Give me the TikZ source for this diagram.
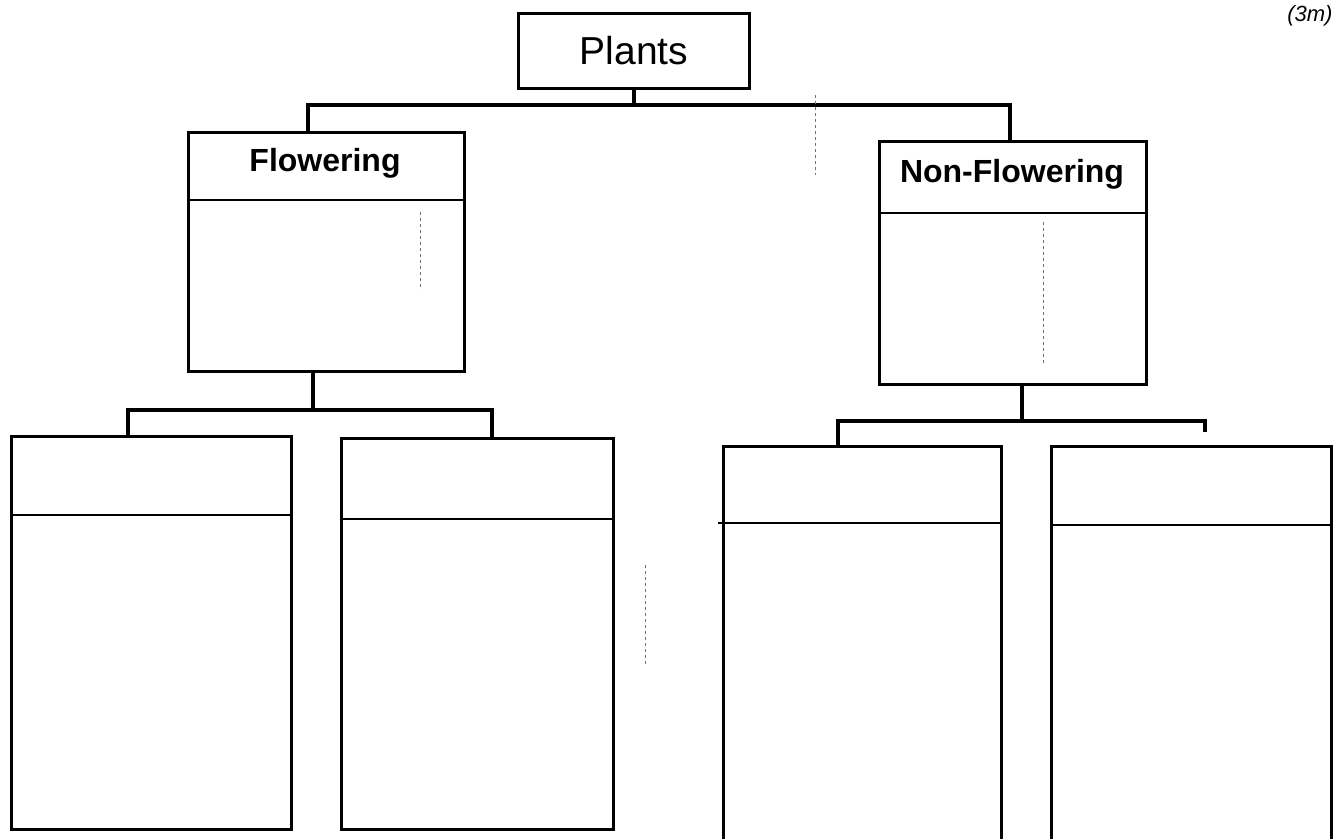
\documentclass[tikz,border=0pt]{standalone}
\usepackage{fontspec}
\setmainfont{Liberation Sans}
\usetikzlibrary{calc}
\begin{document}
\begin{tikzpicture}[x=1pt,y=-1pt,
  box/.style={draw=black, rectangle, inner sep=0pt, line width=2.8pt, anchor=north west},
  link/.style={draw=black, line width=3.2pt},
  divline/.style={draw=black, line width=2.2pt},
  artifact/.style={draw=black!55, line width=0.7pt, dash pattern=on 3pt off 3pt},
  ttl/.style={font=\bfseries\fontsize{32}{36}\selectfont, text=black}]
\useasboundingbox[fill=white] (0,0) rectangle (1335,838);

% top box
\node[box, minimum width=231pt, minimum height=75pt, font=\fontsize{39}{44}\selectfont] (plants) at (517,12) {Plants};
\node[font=\itshape\fontsize{22}{26}\selectfont, anchor=north east] (marks) at (1336,2) {(3m)};

% second level
\node[box, minimum width=276pt, minimum height=239pt] (flow) at (187,131) {};
\node[box, minimum width=267pt, minimum height=243pt] (nflow) at (878,140) {};
\node[ttl] (flowT) at (325,163) {Flowering};
\node[ttl] (nflowT) at (1012,174) {Non-Flowering};
\draw[divline] ($(flow.north west)+(0,69)$) -- ($(flow.north east)+(0,69)$);
\draw[divline] ($(nflow.north west)+(0,73)$) -- ($(nflow.north east)+(0,73)$);

% third level
\node[box, minimum width=280pt, minimum height=393pt] (b1) at (10,435) {};
\node[box, minimum width=272pt, minimum height=391pt] (b2) at (340,437) {};
\node[box, minimum width=278pt, minimum height=410pt] (b3) at (722,445) {};
\node[box, minimum width=280pt, minimum height=410pt] (b4) at (1050,445) {};
\draw[divline] ($(b1.north west)+(0,80)$) -- ($(b1.north east)+(0,80)$);
\draw[divline] ($(b2.north west)+(0,82)$) -- ($(b2.north east)+(0,82)$);
\draw[divline] ($(b3.north west)+(-4,78)$) -- ($(b3.north east)+(0,78)$);
\draw[divline] ($(b4.north west)+(0,80)$) -- ($(b4.north east)+(0,80)$);

% connectors
\coordinate (busL) at (308,105);
\coordinate (busR) at (1010,105);
\draw[link] (plants.south) -- (plants.south |- busL);
\draw[link] (flow.north -| busL) -- (busL) -- (busR) -- (nflow.north -| busR);

\coordinate (fL) at (128,410);
\coordinate (fR) at (492,410);
\coordinate (fS) at (313,410);
\draw[link] (flow.south -| fS) -- (fS);
\draw[link] (b1.north -| fL) -- (fL) -- (fR) -- (b2.north -| fR);

\coordinate (nL) at (838,421);
\coordinate (nR) at (1205,421);
\coordinate (nS) at (1022,421);
\coordinate (nEnd) at (1205,432);
\draw[link] (nflow.south -| nS) -- (nS);
\draw[link] (b3.north -| nL) -- (nL) -- (nR) -- (nEnd);

% faint scan marks
\coordinate (a1) at (815,95);  \coordinate (a2) at (815,175);
\coordinate (a3) at (645,565); \coordinate (a4) at (645,665);
\coordinate (a5) at (420,212); \coordinate (a6) at (420,290);
\coordinate (a7) at (1043,222); \coordinate (a8) at (1043,365);
\draw[artifact] (a1) -- (a2);
\draw[artifact] (a3) -- (a4);
\draw[artifact] (a5) -- (a6);
\draw[artifact] (a7) -- (a8);
\end{tikzpicture}
\end{document}
